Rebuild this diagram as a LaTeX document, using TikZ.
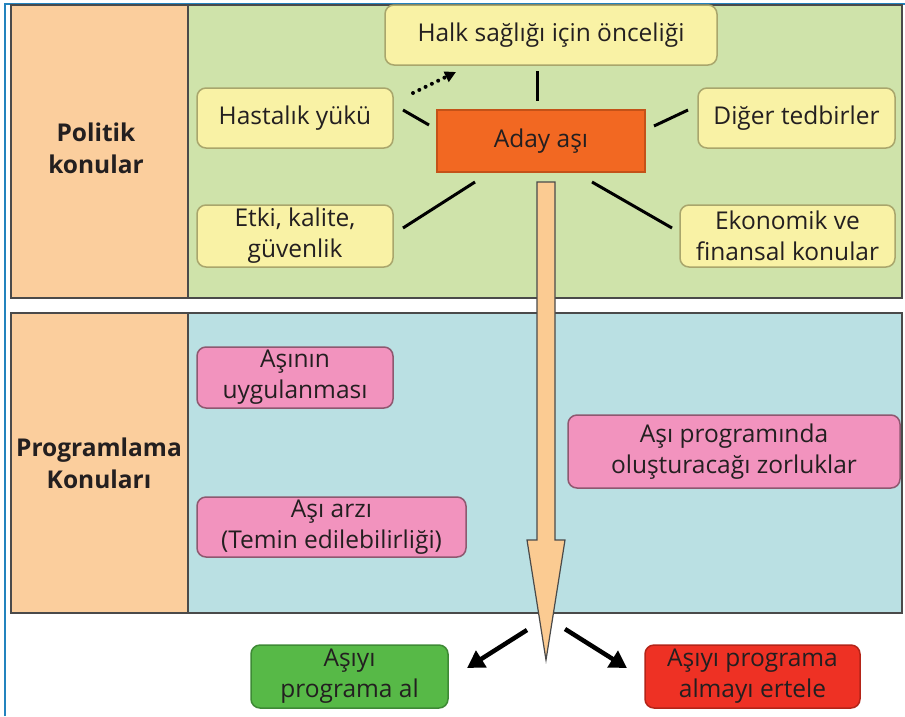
\documentclass[tikz,border=0pt]{standalone}
\usepackage{fontspec}
\setmainfont{Open Sans}
\usetikzlibrary{arrows.meta,calc}
\definecolor{colorange}{HTML}{FBCE9D}
\definecolor{panelgreen}{HTML}{CFE3AA}
\definecolor{panelblue}{HTML}{BAE0E3}
\definecolor{panelline}{HTML}{4A4A4A}
\definecolor{yfill}{HTML}{F9F2A5}
\definecolor{ybord}{HTML}{A9A66C}
\definecolor{adayfill}{HTML}{F26822}
\definecolor{adaybord}{HTML}{C45218}
\definecolor{pinkfill}{HTML}{F293BE}
\definecolor{pinkbord}{HTML}{8E5870}
\definecolor{gfill}{HTML}{57B947}
\definecolor{gbord}{HTML}{3E8A35}
\definecolor{rfill}{HTML}{EE3124}
\definecolor{rbord}{HTML}{B42418}
\definecolor{arrowfill}{HTML}{FBCB92}
\definecolor{frameblue}{HTML}{2383BE}
\definecolor{textdark}{HTML}{231F20}
\newcommand\bxfont{\fontsize{24.5}{31}\selectfont}
\newcommand\lblfont{\fontsize{24.5}{32}\selectfont\bfseries}
\begin{document}
\begin{tikzpicture}[x=1pt,y=-1pt,
  panel/.style={draw=panelline, line width=2},
  box/.style={line width=1.5, rounded corners=9, inner sep=0, align=center, font=\bxfont, text=textdark},
  ybox/.style={box, draw=ybord, fill=yfill},
  pbox/.style={box, draw=pinkbord, fill=pinkfill},
  conn/.style={line width=3, black},
  dotarrow/.style={line width=4, black, dash pattern=on 0pt off 7pt, line cap=round, -{Triangle[length=11,width=11]}},
  decarrow/.style={line width=4.5, black, -{Triangle[length=17,width=19]}},
  lbl/.style={align=center, font=\lblfont, text=textdark}]
\useasboundingbox (0,0) rectangle (905,716);
% frame
\draw[frameblue, line width=1.5] (5,716) -- (5,4) -- (905,4);
% top panel
\fill[colorange] (11,5) rectangle (188,298);
\fill[panelgreen] (188,5) rectangle (902,298);
\draw[panel] (11,5) rectangle (902,298);
\draw[panel] (188,5) -- (188,298);
% bottom panel
\fill[colorange] (11,313) rectangle (188,613);
\fill[panelblue] (188,313) rectangle (902,613);
\draw[panel] (11,313) rectangle (902,613);
\draw[panel] (188,313) -- (188,613);
% labels
\node[lbl] (politik) at (96,148) {Politik\\konular};
\node[lbl] (program) at (99,463) {Programlama\\Konuları};
% top boxes
\node[ybox, minimum width=332, minimum height=60] (halk) at (551,35) {Halk sağlığı için önceliği};
\node[ybox, minimum width=196, minimum height=60] (hast) at (295,118) {Hastalık yükü};
\node[ybox, minimum width=196, minimum height=62] (etki) at (295,236) {Etki, kalite,\\güvenlik};
\node[ybox, minimum width=197, minimum height=60] (diger) at (796.5,118) {Diğer tedbirler};
\node[ybox, minimum width=215, minimum height=62] (ekon) at (787.5,236) {Ekonomik ve\\finansal konular};
\node[box, rounded corners=0, draw=adaybord, fill=adayfill, minimum width=208, minimum height=62] (aday) at (541,141) {Aday aşı};
% bottom boxes
\node[pbox, minimum width=196, minimum height=61] (asinin) at (295,377.5) {Aşının\\uygulanması};
\node[pbox, minimum width=269, minimum height=60] (arz) at (331.5,527) {Aşı arzı\\(Temin edilebilirliği)};
\node[pbox, minimum width=332, minimum height=73] (zor) at (734,451.5) {Aşı programında\\oluşturacağı zorluklar};
% decisions
\node[box, draw=gbord, fill=gfill, minimum width=197, minimum height=63] (al) at (349.5,676.5) {Aşıyı\\programa al};
\node[box, draw=rbord, fill=rfill, minimum width=215, minimum height=63] (ertele) at (752.5,676.5) {Aşıyı programa\\almayı ertele};
% connector end points
\coordinate (c1a) at (403,110); \coordinate (c1b) at (429,125);
\coordinate (c2a) at (537,71);  \coordinate (c2b) at (537,101);
\coordinate (c3a) at (654,126); \coordinate (c3b) at (688,110);
\coordinate (c4a) at (403,228); \coordinate (c4b) at (475,182);
\coordinate (c5a) at (592,182); \coordinate (c5b) at (672,228);
\coordinate (d1) at (413,93);   \coordinate (d2) at (456,72);
\draw[conn] (c1a) -- (c1b);
\draw[conn] (c2a) -- (c2b);
\draw[conn] (c3a) -- (c3b);
\draw[conn] (c4a) -- (c4b);
\draw[conn] (c5a) -- (c5b);
\draw[dotarrow] (d1) -- (d2);
% big arrow
\coordinate (tip) at (546,660);
\draw[panelline, line width=1.2, fill=arrowfill, line join=miter]
  (537,182) -- (555,182) -- (555,540) -- (565,540) -- (tip) -- (527,540) -- (537,540) -- cycle;
% decision arrows
\coordinate (e1) at (527,630); \coordinate (e2) at (467,668);
\coordinate (f1) at (565,629); \coordinate (f2) at (627,668);
\draw[decarrow] (e1) -- (e2);
\draw[decarrow] (f1) -- (f2);
\end{tikzpicture}
\end{document}
